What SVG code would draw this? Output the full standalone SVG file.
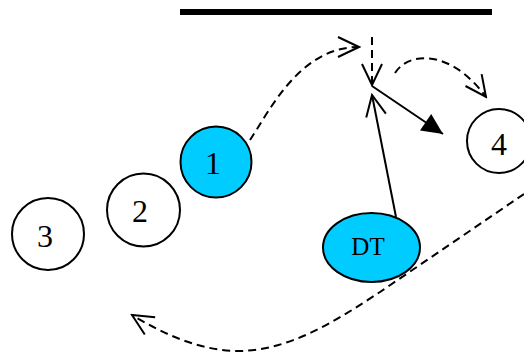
<svg xmlns="http://www.w3.org/2000/svg" width="524" height="352" viewBox="0 0 524 352">
<style>
.node{stroke:#000;stroke-width:2}
.cyan{fill:#00ccff}
.white{fill:#fff}
.lbl{font-family:"Liberation Serif","Times New Roman",serif;fill:#000;text-anchor:middle}
.dig{font-size:32px}
.dt{font-size:25px}
.dash{fill:none;stroke:#000;stroke-width:2;stroke-dasharray:8,5}
.solid{fill:none;stroke:#000;stroke-width:2}
</style>
<defs>
<marker id="open" markerUnits="userSpaceOnUse" viewBox="-24 -12 26 24" refX="0" refY="0" markerWidth="26" markerHeight="24" orient="auto">
<path d="M-21,-10 L0,0 L-21,10" fill="none" stroke="#000" stroke-width="2" stroke-dasharray="none"/>
</marker>
<marker id="filled" markerUnits="userSpaceOnUse" viewBox="-22 -11 24 22" refX="0" refY="0" markerWidth="24" markerHeight="22" orient="auto">
<path d="M-21,-10 L0,0 L-21,10 Z" fill="#000" stroke="none"/>
</marker>
</defs>
<line x1="180" y1="12" x2="492" y2="12" stroke="#000" stroke-width="6"/>
<g id="connectors">
<path class="dash" d="M250,140 C270,110 300,47 359,47" marker-end="url(#open)"/>
<path class="dash" d="M372,37 L372,85" marker-end="url(#open)"/>
<path class="solid" d="M396,217 L372,95" marker-end="url(#open)"/>
<path class="solid" d="M372,86 L443,134" marker-end="url(#filled)"/>
<path class="dash" d="M395,73 C408,52 450,48 486,97" marker-end="url(#open)"/>
<path class="dash" d="M524,194 C480,224 430,258 380,292 C340,318 290,352 235,351 C200,350 165,335 132,315" marker-end="url(#open)"/>
</g>
<g id="node1"><circle class="node cyan" cx="216" cy="162" r="35.5"/><text class="lbl dig" x="213" y="174">1</text></g>
<g id="node2"><circle class="node white" cx="143.5" cy="210" r="36.5"/><text class="lbl dig" x="140" y="222">2</text></g>
<g id="node3"><circle class="node white" cx="48" cy="234" r="36"/><text class="lbl dig" x="45" y="247">3</text></g>
<g id="node4"><circle class="node white" cx="499" cy="141" r="32"/><text class="lbl dig" x="499" y="155">4</text></g>
<g id="nodeDT"><ellipse class="node cyan" cx="371.5" cy="247.5" rx="48.5" ry="34.5"/><text class="lbl dt" x="368" y="255">DT</text></g>
</svg>
